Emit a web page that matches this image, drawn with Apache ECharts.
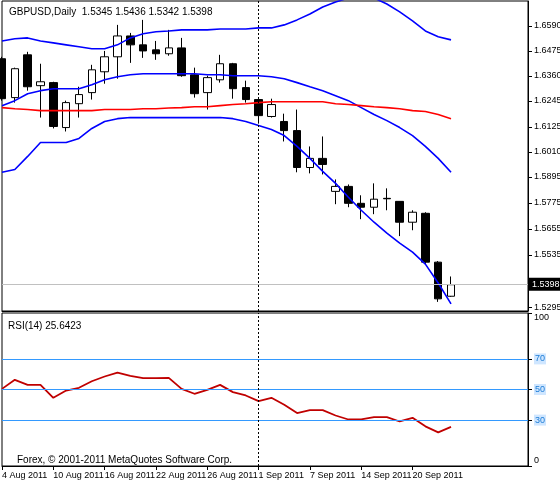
<!DOCTYPE html>
<html><head><meta charset="utf-8">
<script src="https://cdn.jsdelivr.net/npm/echarts@6/dist/echarts.min.js"></script>
<style>html,body{margin:0;padding:0;background:#fff}#main{width:560px;height:480px}</style>
</head><body><div id="main"></div>
<script>
var dates = ['4 Aug 2011','5 Aug','8 Aug','9 Aug','10 Aug 2011','11 Aug','12 Aug','15 Aug','16 Aug 2011','17 Aug','18 Aug','19 Aug',
  '22 Aug 2011','23 Aug','24 Aug','25 Aug','26 Aug 2011','29 Aug','30 Aug','31 Aug','1 Sep 2011','2 Sep','5 Sep','6 Sep',
  '7 Sep 2011','8 Sep','9 Sep','13 Sep','14 Sep 2011','15 Sep','16 Sep','19 Sep','20 Sep 2011','21 Sep','22 Sep','23 Sep',
  '','','','','',''];
// [open, close, low, high]
var ohlc = [
  [1.6439,1.6255,1.6246,1.6448],[1.6260,1.6393,1.6237,1.6398],[1.6457,1.6310,1.6292,1.6471],[1.6315,1.6333,1.6168,1.6416],
  [1.6329,1.6127,1.6118,1.6333],[1.6122,1.6237,1.6104,1.6246],[1.6232,1.6274,1.6168,1.6310],[1.6283,1.6388,1.6251,1.6411],
  [1.6379,1.6448,1.6324,1.6475],[1.6448,1.6544,1.6347,1.6595],[1.6544,1.6503,1.6420,1.6558],[1.6503,1.6475,1.6443,1.6618],
  [1.6480,1.6462,1.6434,1.6521],[1.6462,1.6489,1.6453,1.6572],[1.6489,1.6361,1.6356,1.6535],[1.6365,1.6278,1.6260,1.6398],
  [1.6283,1.6352,1.6205,1.6361],[1.6342,1.6416,1.6329,1.6457],[1.6416,1.6301,1.6255,1.6420],[1.6306,1.6251,1.6237,1.6338],
  [1.6251,1.6177,1.6140,1.6251],[1.6173,1.6228,1.6168,1.6255],[1.6150,1.6108,1.6058,1.6186],[1.6108,1.5938,1.5916,1.6205],
  [1.5938,1.5980,1.5911,1.6035],[1.5980,1.5952,1.5906,1.6081],[1.5828,1.5851,1.5769,1.5883],[1.5851,1.5773,1.5755,1.5860],
  [1.5773,1.5755,1.5700,1.5810],[1.5755,1.5792,1.5723,1.5865],[1.5796,1.5794,1.5741,1.5842],[1.5782,1.5686,1.5622,1.5782],
  [1.5686,1.5732,1.5649,1.5741],[1.5727,1.5502,1.5493,1.5732],[1.5502,1.5333,1.5319,1.5507],[1.5345,1.5398,1.5342,1.5436]
];
var upperBand = [1.6521,1.6531,1.6535,1.6521,1.6512,1.6503,1.6494,1.6485,1.6485,1.6503,1.6535,1.6554,1.6563,1.6567,1.6572,1.6572,1.6572,1.6576,
  1.6576,1.6576,1.6581,1.6581,1.6595,1.6618,1.6645,1.6677,1.6700,1.6719,1.6728,1.6719,1.6691,1.6655,1.6613,1.6567,1.6540,1.6526];
var midBand = [1.6223,1.6246,1.6278,1.6292,1.6301,1.6301,1.6301,1.6319,1.6342,1.6356,1.6365,1.6370,1.6370,1.6370,1.6370,1.6370,1.6365,1.6365,
  1.6361,1.6361,1.6361,1.6356,1.6347,1.6329,1.6310,1.6292,1.6269,1.6246,1.6214,1.6182,1.6154,1.6122,1.6085,1.6035,1.5980,1.5916];
var lowerBand = [1.5916,1.5929,1.5989,1.6053,1.6053,1.6053,1.6072,1.6118,1.6150,1.6163,1.6168,1.6168,1.6168,1.6168,1.6168,1.6168,1.6168,1.6168,
  1.6163,1.6150,1.6131,1.6113,1.6085,1.6035,1.5980,1.5920,1.5865,1.5801,1.5741,1.5686,1.5636,1.5590,1.5548,1.5493,1.5406,1.5310];
var slowMA = [1.6214,1.6209,1.6205,1.6200,1.6200,1.6200,1.6200,1.6200,1.6205,1.6205,1.6205,1.6209,1.6209,1.6212,1.6214,1.6218,1.6218,1.6223,
  1.6228,1.6232,1.6237,1.6241,1.6241,1.6241,1.6241,1.6241,1.6232,1.6228,1.6223,1.6218,1.6214,1.6209,1.6200,1.6196,1.6182,1.6163];
var rsi = [50.4,56.3,53.0,53.0,44.6,49.3,51.1,55.4,58.5,61.1,58.9,57.4,57.4,57.6,50.4,47.2,49.8,53.0,48.3,46.1,42.4,44.6,40.0,34.6,
  36.5,36.5,33.0,30.4,30.4,32.0,32.0,29.1,31.5,25.9,22.0,25.6];
var priceTicks = [1.6590,1.6475,1.6360,1.6245,1.6125,1.6010,1.5895,1.5775,1.5655,1.5535,1.5415,1.5295];
var rsiTicks = [0,30,50,70,100];
var rsiLevels = [30,50,70];
var lastPrice = 1.5398;

var font = 'Liberation Sans';
var chart = echarts.init(document.getElementById('main'));
var showTick = function (i, v) { return i % 4 === 0 && v !== ''; };
var xAx = function (gi, showLabels) {
  return {
    type: 'category', gridIndex: gi, data: dates, boundaryGap: false, min: 0, max: dates.length - 1,
    axisLine: {lineStyle: {color: '#000'}},
    axisTick: {show: showLabels, interval: showTick, length: 4, lineStyle: {color: '#000'}},
    axisLabel: {show: showLabels, interval: showTick, align: 'left', margin: 5, hideOverlap: false,
      fontFamily: font, fontSize: 9, color: '#000'},
    splitLine: {show: false}
  };
};
chart.setOption({
  backgroundColor: '#fff',
  animation: false,
  title: [
    {text: 'GBPUSD,Daily  1.5345 1.5436 1.5342 1.5398', left: 4, top: 2, textStyle: {fontFamily: font, fontSize: 10, fontWeight: 'normal', color: '#000'}},
    {text: 'RSI(14) 25.6423', left: 3, top: 316, textStyle: {fontFamily: font, fontSize: 10, fontWeight: 'normal', color: '#000'}},
    {text: 'Forex, \u00a9 2001-2011 MetaQuotes Software Corp.', left: 12, top: 450, textStyle: {fontFamily: font, fontSize: 10, fontWeight: 'normal', color: '#000'}}
  ],
  grid: [
    {left: 2, top: 1, width: 526, height: 310, show: true, borderColor: '#000', borderWidth: 1, outerBoundsMode: 'none', containLabel: false},
    {left: 2, top: 313, width: 526, height: 153, show: true, borderColor: '#000', borderWidth: 1, outerBoundsMode: 'none', containLabel: false}
  ],
  xAxis: [xAx(0, false), xAx(1, true)],
  yAxis: [
    {type: 'value', gridIndex: 0, position: 'right', min: 1.5277, max: 1.6705, splitLine: {show: false},
      axisLine: {show: true, lineStyle: {color: '#000'}},
      axisTick: {show: true, customValues: priceTicks, length: 4, lineStyle: {color: '#000'}},
      axisLabel: {customValues: priceTicks, fontFamily: font, fontSize: 9, color: '#000', margin: 6,
        formatter: function (v) { return v.toFixed(4); }}},
    {type: 'value', gridIndex: 1, position: 'right', min: 0, max: 100, splitLine: {show: false},
      axisLine: {show: true, lineStyle: {color: '#000'}},
      axisTick: {show: true, customValues: rsiTicks, length: 4, lineStyle: {color: '#000'}},
      axisLabel: {customValues: rsiTicks, fontFamily: font, fontSize: 9, color: '#000', margin: 6,
        formatter: function (v) { return v === 100 ? '{t|100}' : v === 0 ? '{b|0}' : '{lv|' + v + '}'; },
        rich: {
          lv: {backgroundColor: '#cfe6ff', color: '#1c7cd6', fontFamily: font, fontSize: 9, padding: [1, 1]},
          t: {fontFamily: font, fontSize: 9, color: '#000', padding: [10, 0, 0, 0]},
          b: {fontFamily: font, fontSize: 9, color: '#000', padding: [0, 0, 10, 0]}
        }}}
  ],
  series: [
    {type: 'candlestick', xAxisIndex: 0, yAxisIndex: 0, data: ohlc, barWidth: 8,
      itemStyle: {color: '#fff', color0: '#000', borderColor: '#000', borderColor0: '#000', borderWidth: 1},
      markLine: {symbol: 'none', silent: true, animation: false, data: [
        {yAxis: lastPrice, lineStyle: {color: '#c0c0c0', type: 'solid', width: 1},
          label: {position: 'end', distance: 1, formatter: lastPrice.toFixed(4), backgroundColor: '#000', color: '#fff',
            fontFamily: font, fontSize: 9, padding: [2, 3]}},
        {xAxis: 20, lineStyle: {color: '#000', type: [2, 2], width: 1}, label: {show: false}}
      ]}},
    {type: 'line', xAxisIndex: 0, yAxisIndex: 0, data: upperBand, symbol: 'none', lineStyle: {color: '#0000ff', width: 1.6}},
    {type: 'line', xAxisIndex: 0, yAxisIndex: 0, data: midBand, symbol: 'none', lineStyle: {color: '#0000ff', width: 1.6}},
    {type: 'line', xAxisIndex: 0, yAxisIndex: 0, data: lowerBand, symbol: 'none', lineStyle: {color: '#0000ff', width: 1.6}},
    {type: 'line', xAxisIndex: 0, yAxisIndex: 0, data: slowMA, symbol: 'none', lineStyle: {color: '#ff0000', width: 1.6}},
    {type: 'line', xAxisIndex: 1, yAxisIndex: 1, data: rsi, symbol: 'none', lineStyle: {color: '#c00000', width: 1.8},
      markLine: {symbol: 'none', silent: true, animation: false, label: {show: false}, data: rsiLevels.map(function (l) {
        return {yAxis: l, lineStyle: {color: '#3399ff', type: 'solid', width: 1}};
      }).concat([{xAxis: 20, lineStyle: {color: '#000', type: [2, 2], width: 1}}])}}
  ]
});
</script></body></html>
